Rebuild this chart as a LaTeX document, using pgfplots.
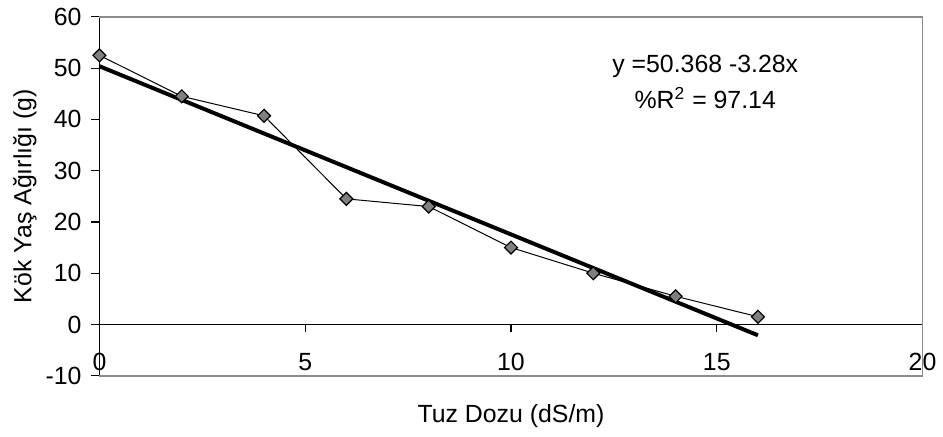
\documentclass[border=0pt]{standalone}
\usepackage{pgfplots}
\pgfplotsset{compat=1.18}
\usepackage{fontspec}
\setmainfont{Liberation Sans}

\definecolor{framegray}{RGB}{140,140,140}
\definecolor{markgray}{RGB}{128,128,128}

\begin{document}
\begin{tikzpicture}
\begin{axis}[
  scale only axis,
  width=414pt, height=180.5pt,
  xmin=0, xmax=20, ymin=-10, ymax=60,
  axis x line=middle, axis y line=left,
  axis line style={-, black, line width=0.6pt},
  hide obscured x ticks=false,
  xtick={0,5,10,15,20}, ytick={-10,0,10,20,30,40,50,60},
  xtick align=outside, ytick align=outside,
  major tick length=4pt,
  xtick style={draw=black, line width=0.6pt},
  ytick style={draw=black, line width=0.6pt},
  font=\fontsize{12.5}{15}\selectfont,
  /pgf/number format/assume math mode=true,
  xticklabel style={yshift=-7pt},
  yticklabel style={xshift=-1.5pt},
  xlabel={Tuz Dozu (dS/m)},
  ylabel={Kök Yaş Ağırlığı (g)},
  every axis x label/.style={at={(rel axis cs:0.5,-0.1136)}, anchor=center},
  every axis y label/.style={at={(rel axis cs:-0.0905,0.5)}, rotate=90, anchor=center},
  clip=false,
]
  % invisible frame for the page margins
  \path (rel axis cs:-0.1208,-0.169) rectangle (rel axis cs:1.0181,1.047);
  % plot frame (top, right, bottom)
  \draw[framegray, line width=0.8pt] (rel axis cs:0,0) -- (rel axis cs:1,0) -- (rel axis cs:1,1) -- (rel axis cs:0,1);

  % measured root fresh weight
  \addplot[black, line width=0.5pt, mark=square*, mark size=2.3pt,
           mark options={rotate=45, fill=markgray, draw=black, line width=0.6pt}]
    coordinates {(0,52.5) (2,44.5) (4,40.7) (6,24.5) (8,23.0) (10,15.0) (12,10.0) (14,5.5) (16,1.5)};

  % linear fit y = 50.368 - 3.28x over 0..16
  \addplot[black, line width=2pt, no marks]
    coordinates {(0,50.368) (16,-2.112)};

  \node[align=center, font=\fontsize{12.5}{18}\selectfont] at (axis cs:14.72,47.3)
    {y =50.368 -3.28x\\\%R\textsuperscript{2} = 97.14};
\end{axis}
\end{tikzpicture}
\end{document}
